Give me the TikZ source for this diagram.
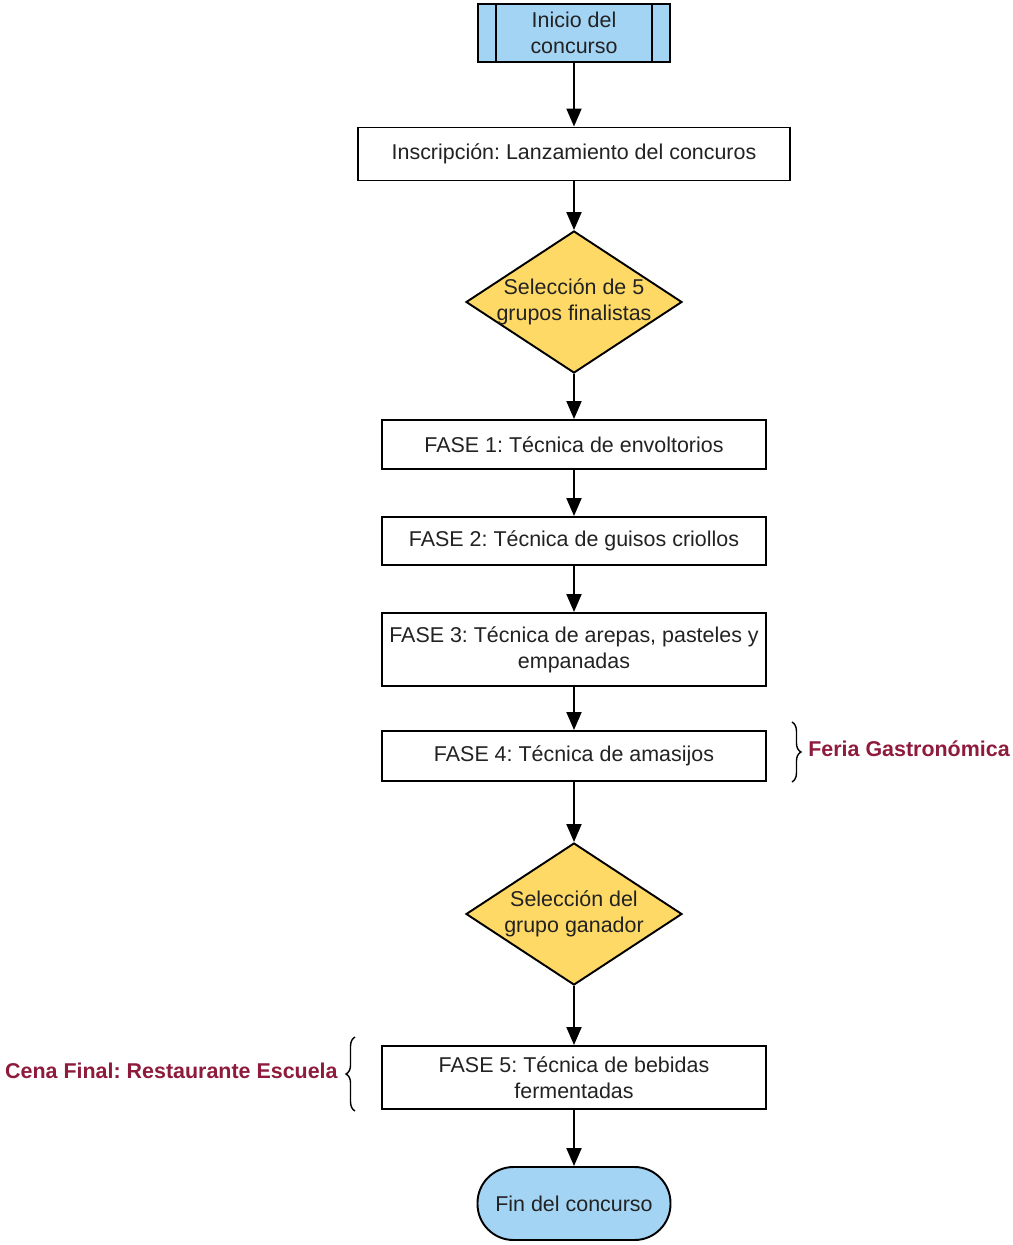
\documentclass[tikz,border=0pt]{standalone}
\usepackage{fontspec}
\setmainfont{Liberation Sans}
\frenchspacing
\usetikzlibrary{shapes.geometric, arrows.meta, decorations.pathreplacing, positioning}
\definecolor{azul}{RGB}{164,212,244}
\definecolor{amarillo}{RGB}{255,217,102}
\definecolor{vino}{RGB}{142,27,60}
\definecolor{texto}{RGB}{34,34,34}

\begin{document}
\begin{tikzpicture}[
        every node/.style={font=\fontsize{12.2}{15}\selectfont, text=texto},
        box/.style={draw, line width=1.1pt, fill=white, align=center, inner sep=0pt},
        decision/.style={draw, line width=1.1pt, fill=amarillo, shape=diamond, inner sep=0pt,
            minimum width=4.32cm, minimum height=2.84cm},
        flecha/.style={line width=1.1pt, -{Triangle[length=0.36cm,width=0.3cm]}},
        llave/.style={line width=0.8pt, decorate, decoration={brace, amplitude=0.18cm}},
        nota/.style={font=\bfseries\fontsize{12.2}{15}\selectfont, text=vino, inner sep=0pt}]

        \useasboundingbox (0,0) rectangle (20.26,-24.9);

        \node[box, fill=azul, minimum width=3.84cm, minimum height=1.16cm] (inicio) at (11.48,-0.66) {Inicio del\\concurso};
        \draw[line width=1.1pt] ([xshift=0.38cm]inicio.north west) -- ([xshift=0.38cm]inicio.south west);
        \draw[line width=1.1pt] ([xshift=-0.38cm]inicio.north east) -- ([xshift=-0.38cm]inicio.south east);

        \node[box, minimum width=8.64cm, minimum height=1.06cm] (inscripcion) at (11.48,-3.08) {Inscripción: Lanzamiento del concuros};

        \node[decision] (sel1) at (11.48,-6.04) {};
        \node[align=center] (sel1txt) at (sel1) {Selección de 5\\grupos finalistas};

        \node[box, minimum width=7.68cm, minimum height=0.98cm] (fase1) at (11.48,-8.89) {FASE 1: Técnica de envoltorios};
        \node[box, minimum width=7.68cm, minimum height=0.96cm] (fase2) at (11.48,-10.82) {FASE 2: Técnica de guisos criollos};
        \node[box, minimum width=7.68cm, minimum height=1.46cm] (fase3) at (11.48,-12.99) {FASE 3: Técnica de arepas, pasteles y\\empanadas};
        \node[box, minimum width=7.68cm, minimum height=1.0cm] (fase4) at (11.48,-15.12) {FASE 4: Técnica de amasijos};

        \node[decision] (sel2) at (11.48,-18.28) {};
        \node[align=center] (sel2txt) at (sel2) {Selección del\\grupo ganador};

        \node[box, minimum width=7.68cm, minimum height=1.26cm] (fase5) at (11.48,-21.55) {FASE 5: Técnica de bebidas\\fermentadas};

        \node[box, fill=azul, rounded corners=0.72cm, minimum width=3.86cm, minimum height=1.46cm] (fin) at (11.48,-24.07) {Fin del concurso};

        \draw[flecha] (inicio) -- (inscripcion);
        \draw[flecha] (inscripcion) -- (sel1);
        \draw[flecha] (sel1) -- (fase1);
        \draw[flecha] (fase1) -- (fase2);
        \draw[flecha] (fase2) -- (fase3);
        \draw[flecha] (fase3) -- (fase4);
        \draw[flecha] (fase4) -- (sel2);
        \draw[flecha] (sel2) -- (fase5);
        \draw[flecha] (fase5) -- (fin);

        % llaves con notas
        \draw[llave] ([shift={(0.5,0.16)}]fase4.north east) -- ([xshift=0.5cm]fase4.south east);
        \node[nota, anchor=west] (feria) at (16.16,-14.98) {Feria Gastronómica};

        \draw[llave] ([shift={(-0.52,-0.02)}]fase5.south west) -- ([shift={(-0.52,0.16)}]fase5.north west);
        \node[nota, anchor=east] (cena) at (6.76,-21.42) {Cena Final: Restaurante Escuela};

    \end{tikzpicture}
\end{document}
